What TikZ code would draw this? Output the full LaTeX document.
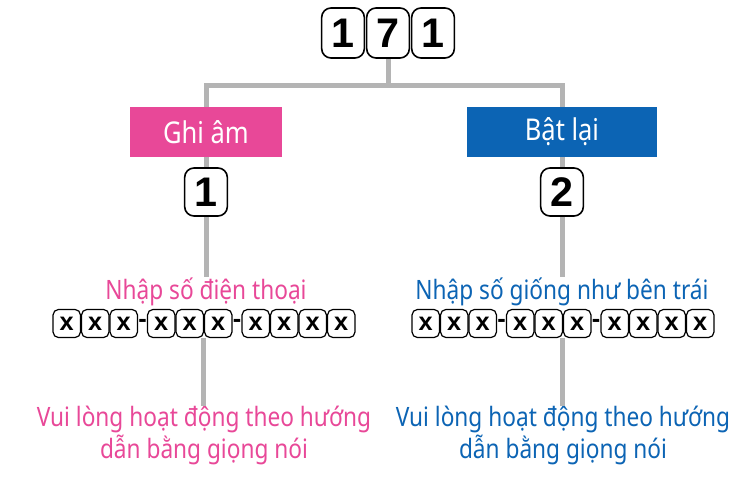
\documentclass[tikz,border=0pt]{standalone}
\usepackage{fontspec}
\setmainfont{Noto Sans}[FakeStretch=0.85]
\newfontfamily\keyfont{Liberation Sans}
\usetikzlibrary{calc}
\definecolor{recpink}{RGB}{232,72,152}
\definecolor{playblue}{RGB}{12,100,180}
\definecolor{linegray}{RGB}{180,180,180}

\begin{document}
\begin{tikzpicture}[x = 0.75pt, y = -0.75pt,
        link/.style = {draw = linegray, line width = 3.75pt},
        digit/.style = {draw, fill = white, line width = 1.2pt,
            rounded corners = 7pt, minimum width = 32pt,
            minimum height = 37.5pt, inner sep = 0pt,
            font = \keyfont\fontsize{31}{31}\selectfont\bfseries},
        xkey/.style = {draw, fill = white, line width = 0.9pt,
            rounded corners = 4pt, minimum width = 20.5pt,
            minimum height = 21pt, inner sep = 0pt,
            font = \keyfont\fontsize{19}{19}\selectfont\bfseries},
        hyphen/.style = {inner sep = 0pt,
            font = \keyfont\fontsize{19}{19}\selectfont\bfseries},
        mode/.style = {minimum height = 37.5pt, inner sep = 0pt,
            text = white, font = \fontsize{22.5}{22.5}\selectfont},
        hint/.style = {anchor = base, inner sep = 0pt,
            font = \fontsize{20}{20}\selectfont},
        guide/.style = {anchor = north, inner sep = 0pt, align = center,
            font = \fontsize{20}{24}\selectfont}]
        \useasboundingbox (0, 0) rectangle (754, 476);
        \node[digit] at (343, 33) (dial_a) {1};
        \node[digit] at (388, 33) (dial_b) {7};
        \node[digit] at (433, 33) (dial_c) {1};
        \coordinate (fork) at (388, 85);
        \node[mode, fill = recpink, minimum width = 114pt]
            at (206, 132) (record) {Ghi âm};
        \node[mode, fill = playblue, minimum width = 143pt]
            at (562, 132) (playback) {Bật lại};
        \node[digit, minimum height = 36pt] at (206, 192) (step_one) {1};
        \node[digit, minimum height = 36pt] at (562, 192) (step_two) {2};
        \node[hint, text = recpink] at (206, 299) (record_title)
            {Nhập số điện thoại};
        \node[hint, text = playblue] at (562, 299) (playback_title)
            {Nhập số giống như bên trái};
        \foreach \dx [count = \i] in {-137.25, -108.75, -80.25, -42.75,
                -14.25, 14.25, 51.75, 80.25, 108.75, 137.25} {
            \node[xkey] at (204 + \dx, 323.5) (record_x\i) {x};
            \node[xkey] at (563 + \dx, 323.5) (playback_x\i) {x};
        }
        \node[hyphen] at (204 - 61.5, 323.5) (record_gap_a) {-};
        \node[hyphen] at (204 + 33, 323.5) (record_gap_b) {-};
        \node[hyphen] at (563 - 61.5, 323.5) (playback_gap_a) {-};
        \node[hyphen] at (563 + 33, 323.5) (playback_gap_b) {-};
        \node[guide, text = recpink] at (204, 406) (record_note)
            {Vui lòng hoạt động theo hướng\\dẫn bằng giọng nói};
        \node[guide, text = playblue] at (563, 406) (playback_note)
            {Vui lòng hoạt động theo hướng\\dẫn bằng giọng nói};
        \draw[link] (dial_b) -- (fork);
        \draw[link] (record) |- (fork) -| (playback);
        \draw[link] (record) -- (step_one);
        \draw[link] (playback) -- (step_two);
        \draw[link] (step_one) -- (record_title);
        \draw[link] (step_two) -- (playback_title);
        \draw[link] (record_x6.south west)
            -- (record_x6.south west |- record_note.north);
        \draw[link] (playback_x6.south west)
            -- (playback_x6.south west |- playback_note.north);
    \end{tikzpicture}
\end{document}
